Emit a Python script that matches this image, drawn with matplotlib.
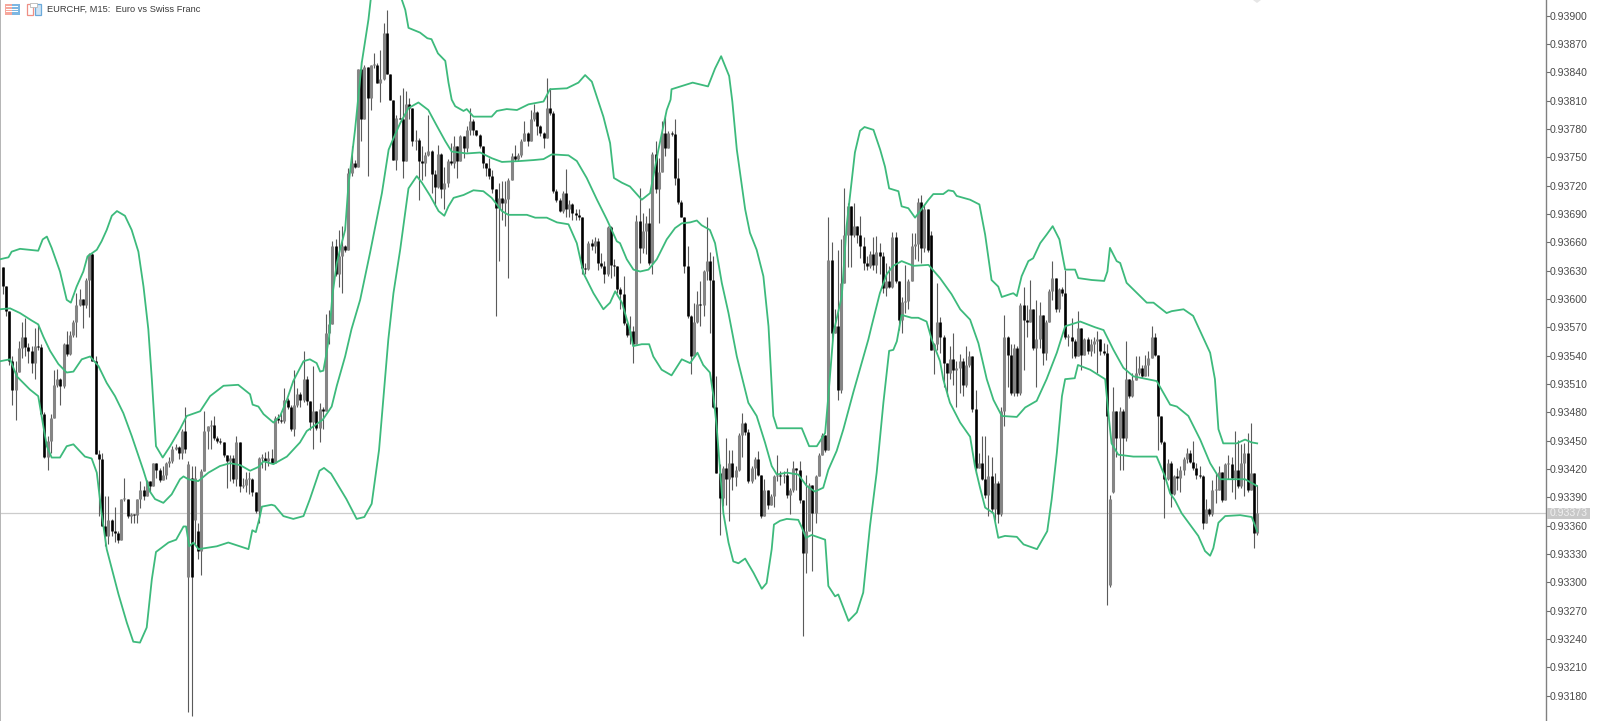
import matplotlib
matplotlib.use("Agg")
import matplotlib.pyplot as plt
from matplotlib.patches import Rectangle, Polygon

# prices are stored as points above 0.93000
closes = [614,587,534,504,523,548,560,549,545,532,
550,549,478,433,449,474,509,515,508,552,
542,562,576,593,600,594,620,648,534,436,
430,359,349,366,354,352,345,388,388,370,
372,371,388,398,391,407,402,426,419,408,
414,426,428,441,443,437,460,441,425,305,
410,333,418,460,465,466,453,449,448,435,
428,432,409,448,402,403,409,409,396,375,
432,432,428,432,426,474,472,471,493,486,
462,488,499,493,515,492,470,481,463,483,
481,564,573,656,626,645,656,652,733,744,
740,843,790,846,813,848,848,829,833,882,
838,811,747,792,791,746,806,802,767,768,
746,744,752,757,732,719,753,716,723,746,
744,762,746,772,760,779,788,779,774,762,
744,739,730,716,696,707,702,706,726,751,
748,752,767,776,767,791,798,783,776,770,
802,797,714,705,693,712,695,700,691,689,
687,633,632,659,656,661,638,635,626,676,
636,635,610,605,574,562,566,552,682,654,
672,680,638,753,716,734,776,760,776,775,
728,703,687,635,582,539,576,595,593,629,
640,620,486,416,389,421,409,426,411,419,
456,469,459,407,421,430,414,370,398,382,
391,412,414,412,414,392,398,421,419,387,
331,354,403,373,412,435,456,440,641,564,
571,504,617,668,698,668,677,668,656,638,
635,647,636,650,645,612,619,613,666,619,
578,597,598,619,656,658,703,654,695,652,
546,552,576,560,532,522,536,525,527,534,
509,530,539,483,421,426,409,392,412,377,
405,372,481,560,541,500,548,500,593,578,
576,589,548,557,583,543,576,608,622,589,
610,606,560,560,555,539,569,541,557,545,
552,555,557,545,543,476,388,481,453,481,
453,515,497,514,522,527,518,530,537,560,
541,476,448,409,426,393,412,410,419,430,
437,427,421,414,412,363,378,372,398,398,
417,387,425,425,410,419,402,426,437,398,
416,352,373]

highs = [634,614,587,540,534,555,576,580,553,550,
569,573,552,480,455,478,525,526,516,553,
566,566,578,606,610,600,622,649,649,539,
440,437,391,391,367,380,354,388,410,388,
373,372,388,407,402,408,407,426,426,421,
423,427,433,444,446,444,462,486,428,423,
423,363,420,481,465,472,476,455,453,448,
435,435,435,455,448,410,417,417,410,396,
433,436,438,439,441,476,478,479,506,495,
488,525,506,501,545,518,492,529,481,490,
485,584,588,661,663,673,677,657,739,762,
747,843,852,848,846,848,860,850,864,892,
906,838,811,795,816,823,820,813,795,779,
770,762,756,795,758,737,763,755,740,748,
765,772,762,774,772,783,802,790,779,775,
762,744,749,737,716,723,725,725,728,755,
763,755,769,788,777,800,806,799,784,777,
834,823,799,716,707,714,738,705,702,695,
695,687,638,661,663,666,665,649,640,677,
677,642,635,613,624,576,582,571,689,717,
691,688,696,756,767,749,788,795,778,778,
790,749,705,687,656,583,596,608,619,631,
687,650,645,518,425,423,453,440,440,423,
458,479,470,462,423,433,439,414,409,398,
393,414,435,418,418,421,400,428,421,428,
387,414,405,403,414,437,458,456,687,660,
589,652,663,717,702,698,702,673,688,666,
645,651,666,667,659,650,638,635,671,671,
619,602,636,621,670,670,707,710,700,691,
672,553,617,581,562,528,550,564,534,542,
537,550,545,539,504,437,455,455,435,433,
416,407,485,583,561,552,552,550,596,613,
594,620,573,599,597,583,578,610,640,622,
612,613,631,563,580,557,587,569,559,560,
557,560,566,557,553,552,392,507,481,486,
483,555,515,522,539,539,530,541,545,571,
564,541,476,449,430,428,414,421,423,433,
442,440,449,426,423,414,388,379,408,416,
423,417,426,435,433,460,451,446,447,458,
469,416,403]

lows = [605,582,530,488,472,525,537,540,532,522,
515,546,476,432,419,437,474,507,488,506,
540,541,560,560,592,569,590,581,534,436,
370,359,338,340,349,343,342,345,386,368,
363,363,363,379,387,391,395,402,410,406,
408,409,422,426,440,430,430,437,163,158,
340,325,308,418,441,441,451,447,446,433,
400,407,405,402,395,400,395,393,391,373,
363,421,419,423,426,430,469,469,469,483,
460,455,486,486,491,488,461,441,461,448,
462,481,552,573,624,613,606,650,652,730,
739,740,767,790,730,800,845,829,808,832,
838,811,747,737,790,728,746,790,762,758,
705,726,730,751,712,698,717,707,695,719,
742,739,728,746,749,756,774,774,772,760,
739,730,727,712,582,640,684,677,622,727,
746,746,750,767,762,767,788,774,772,760,
772,795,712,703,692,691,687,687,684,684,
684,626,626,631,652,649,631,633,617,624,
622,624,606,589,572,560,552,532,566,638,
649,647,636,626,712,680,734,751,760,772,
721,701,687,627,580,520,539,574,571,582,
620,564,484,416,350,381,382,365,398,402,
418,433,456,405,405,409,412,368,370,377,
382,380,407,403,405,389,372,396,398,384,
243,310,354,312,363,412,435,438,440,555,
564,493,500,647,634,634,666,659,643,631,
631,633,631,627,626,606,603,611,611,617,
567,564,585,589,619,642,640,638,650,650,
546,520,546,543,507,497,515,509,486,500,
497,507,528,480,415,421,408,389,370,373,
366,363,370,465,507,498,497,497,498,525,
560,575,546,507,548,530,535,576,599,586,
586,603,558,550,537,537,539,525,542,542,
539,543,522,541,541,276,295,394,433,419,
419,450,495,496,519,519,516,518,518,537,
539,440,446,368,408,380,392,398,396,414,
426,426,419,409,410,356,363,370,370,384,
398,385,387,409,396,388,400,400,391,395,
398,336,350]

first_open = 634
# bars that open away from the previous close
gap_opens = {58: 305, 59: 410, 60: 366, 61: 354, 62: 333, 258: 440, 290: 668, 346: 297, 347: 395}

upper_bar = [-0.8,1.8,2.8,5.4,11.1,12.5,13.8,15.3,17.9,20,21.3,23.1,25.2,26.5,29.4,30.9,32.5,34.1,35.7,38.2,40.3,42.4,44,45.5,46.6,47.9,50,52.3,55.4,57.5,61.7,64.8,69,73.6,77.3,78.1,79.9,81.5,84.6,86.7,88.8,90.8,94,96,98.1,99.2,100.2,101,102,103,104.4,105.4,107,108,110.1,112.2,114.3,115,120,124.7,125.8,126.8,130.4,132.7,134,136,138.3,139.3,140.3,141.4,144,145,147.1,152.8,154.4,157.5,160.7,164.3,169,171,176.3,179.9,182,184.1,187.7,189.8,191,193.5,196,199.7,202.3,204.9,207.5,208.7,209,215.6,220.4,222.6,224.5,227,228,229.4,232,233.5,235.6,237.7,239.3,240.8,242,249.7,252,254.4,257,258,259.6,262.2,263.7,266.3,267.9,269.3,272.1,274.2,275.7,277,279.9,280.9,283,285.1,286.7,289.3,290.8,293.9,295.5,297.1,298.1,302.3,305.2,307,309,311.1,312.2,314.8,315.8,316.9,318.4,320.5,322,324.2,326.2,328.1,330.2,332,335.1,336.1,340.3,344.2,345.2,346,348.1,349.2,351.2,355.4,357.5,359.6,363.7,365.3,369,372,375,377.3,378.8,379.9,381.4,382.5,385.6,388.2,390.3,392]
upper_band = [642,644,650,653,651,663,666,654,629,599,596,613,629,645,652,661,673,688,693,688,673,650,613,568,515,444,432,444,462,476,481,497,508,509,499,488,486,478,469,476,493,513,534,536,532,523,524,539,560,603,638,652,673,719,779,850,896,917,950,917,906,887,882,876,875,860,852,829,811,804,799,801,793,793,799,801,800,806,809,822,823,829,837,830,793,765,728,723,719,705,712,758,800,811,822,829,825,844,857,836,809,758,695,670,652,624,571,476,463,463,444,444,458,497,564,603,677,755,778,782,779,758,740,717,714,698,696,686,693,705,711,711,715,714,709,705,700,668,620,613,602,605,606,603,624,640,643,659,668,677,663,631,631,622,620,619,629,654,640,638,617,603,596,596,585,587,589,582,560,543,515,462,447,447,447,451,448,447]

middle_bar = [-0.8,2.3,5.4,9.1,11.1,12.7,14.8,17.4,20,22.1,24.7,27.3,29.9,32.5,35.1,37.7,40.3,44,46,47.6,50.2,52.8,55.4,56.5,58,61.1,64.3,67.9,71,74.2,77.3,79.9,81.5,84.6,88.8,92.9,95,100,102.8,104.4,107,109,111.7,114.8,118.5,120.6,122.1,124.2,126.8,129.9,133,135.7,138.3,140.3,145,149.2,152.8,156,161.7,165.9,169,171.6,176.8,179.4,182.5,185.7,188.8,191.9,192.9,195,197.1,199.2,201.8,204.4,207.5,210.1,212.2,214.8,216.9,218.4,221,222.6,224.7,226.8,229.4,233,235.6,238.2,240.3,241.9,245,248.6,251.2,253.8,256.4,258,260.6,262.7,265.8,268.9,270.5,271.5,274.1,276.2,278.3,280.9,284.6,289.3,292.9,296.5,299.2,302.3,304.9,307.5,309.6,312.2,316.9,319.5,323.1,326.2,329.4,332,336.7,341.3,344,347.1,350.2,353.3,360.6,364.8,366.9,370.5,374.2,377.3,380.4,385.6,388.2,391.9]
middle_band = [589,590,585,577,573,560,545,531,522,523,536,539,529,511,497,479,455,418,396,388,384,393,409,412,409,407,416,423,426,424,418,422,428,425,433,448,460,472,486,508,539,568,599,649,712,758,770,786,802,808,800,783,767,756,754,755,749,745,746,747,748,753,752,746,728,705,684,661,659,642,631,629,631,642,663,675,680,681,683,678,673,659,617,585,539,490,476,448,423,414,416,414,402,396,400,419,439,462,501,538,557,571,606,626,635,640,635,636,622,605,589,578,553,515,493,476,475,485,492,515,543,571,576,570,567,546,527,518,513,488,486,476,451,426,409,409,409,402]

lower_bar = [-0.8,2.3,4.4,8.5,11.1,12.7,13.8,15.3,17.9,20,22.1,25.7,27.8,29.4,30.9,32.5,36.2,38.8,40.8,42.9,45,46.6,47.9,51.8,54.2,56.5,57.3,58.3,59.6,61.2,66.9,70.5,76.8,78,79.1,80.4,81,84,85,87.7,90.8,94,96,99,100.4,102.6,107.4,110.6,113,115.3,117.6,120.5,122.1,124.2,126.8,129.4,131,133.6,136.2,138,139.3,140.9,144,147.1,150.2,152.8,156,158,163.8,166.4,170,173.2,176.8,179.4,181.5,184.6,187.7,189.8,191.4,193.5,196,197,199.7,202,203.3,205.9,209,212.2,214.8,217.1,218.9,221,222.1,223.1,225.2,226.8,228.3,229.9,232,234.6,237.2,238.7,240.3,241,242.9,245,248.6,249.7,251,252.8,257,258,260.1,261.1,264.3,266.9,268.9,271,273.1,275.2,277,278.3,279.4,280.9,284,286.1,288.7,290.3,292.9,293.9,296,299.2,302.3,303.8,305.4,307,309.6,311.1,313.2,316.9,319,323.2,326.4,327.8,329.4,331,332,335,336,339.8,344.5,345.5,346.5,348.6,353.3,360.6,363.2,364.8,366.3,368.4,373.6,375.7,377.3,378.3,379.9,382,386.7,390.3,392]
lower_band = [534,536,518,504,497,465,444,432,432,444,446,433,431,416,373,335,287,257,237,236,252,303,332,342,345,359,359,338,342,335,338,342,335,355,353,370,380,382,381,370,367,370,388,418,421,415,388,367,369,383,440,557,606,652,717,730,723,709,693,688,698,707,710,715,714,707,693,689,689,686,686,681,679,659,627,606,589,596,608,596,567,550,552,552,539,525,519,536,532,543,530,522,497,465,373,342,322,320,325,310,293,299,335,361,365,367,366,358,347,350,345,296,285,287,259,268,289,359,416,490,545,546,555,583,580,580,576,557,534,515,490,469,454,423,400,379,373,347,349,348,340,335,354,388,437,497,515,516,530,525,515,479,447,435,433,433,412,394,387,373,349,333,328,336,363,370,371,369,354]

price_ticks = [180,210,240,270,300,330,360,390,420,450,480,510,540,570,600,630,660,690,720,750,780,810,840,870,900]
last_price = 373
title = "EURCHF, M15:  Euro vs Swiss Franc"

W, H = 1597, 721
def P(v):
    return 0.93 + v / 1e5

fig = plt.figure(figsize=(W / 100, H / 100), dpi=100, facecolor="white")
ax = fig.add_axes([0, 0, 1545.5 / W, 1])
ax.set_xlim(-0.844, 482.1)
ax.set_ylim(P(153.0), P(916.5))
ax.set_xticks([])
for s in ("top", "bottom"):
    ax.spines[s].set_visible(False)
ax.spines["right"].set_color("#808080")
ax.spines["right"].set_linewidth(1.0)
ax.spines["left"].set_color("#b4b4b4")
ax.spines["left"].set_linewidth(1.4)

opens = [first_open] + closes[:-1]
for k, v in gap_opens.items():
    opens[k] = v

up_x, up_lo, up_hi, dn_x, dn_lo, dn_hi = [], [], [], [], [], []
w_x, w_lo, w_hi = [], [], []
for i, (o, h, l, c) in enumerate(zip(opens, highs, lows, closes)):
    w_x.append(i)
    w_lo.append(P(min(l, o, c)))
    w_hi.append(P(max(h, o, c)))
    if c >= o:
        up_x.append(i); up_lo.append(P(o)); up_hi.append(P(max(c, o + 1)))
    else:
        dn_x.append(i); dn_lo.append(P(c)); dn_hi.append(P(o))

ax.axhline(P(last_price), color="#cccccc", lw=0.9, zorder=1)
ax.vlines(w_x, w_lo, w_hi, color="#5a5a5a", lw=0.8, zorder=2)
ax.vlines(up_x, up_lo, up_hi, color="#858585", lw=2.2, zorder=3, capstyle="butt")
ax.vlines(dn_x, dn_lo, dn_hi, color="#000000", lw=1.9, zorder=3, capstyle="butt")

green = "#3dba7c"
ax.plot(upper_bar, [P(v) for v in upper_band], color=green, lw=1.3, zorder=4, solid_joinstyle="round")
ax.plot(middle_bar, [P(v) for v in middle_band], color=green, lw=1.3, zorder=4, solid_joinstyle="round")
ax.plot(lower_bar, [P(v) for v in lower_band], color=green, lw=1.3, zorder=4, solid_joinstyle="round")

ax.yaxis.tick_right()
ax.set_yticks([P(v) for v in price_ticks])
ax.set_yticklabels([f"{P(v):.5f}" for v in price_ticks], fontsize=7.6, color="#4a4a4a", family="Liberation Sans")
ax.tick_params(axis="y", length=3.0, width=0.8, color="#707070", pad=0.2)

def px_rect(x, y, w, h, fc, ec="none", lw=0):
    fig.add_artist(Rectangle((x / W, 1 - (y + h) / H), w / W, h / H, transform=fig.transFigure,
                             fc=fc, ec=ec, lw=lw))

# price tag
px_rect(1547, 507.5, 43, 11.5, "#c8c8c8")
fig.text(1568.5 / W, 1 - 513.5 / H, f"{P(last_price):.5f}", color="#f0f0f0", fontsize=7.6,
         ha="center", va="center", family="Liberation Sans")

# header icons
px_rect(4.5, 3.5, 7.5, 11, "#f6a79c"); px_rect(12, 3.5, 7.5, 11, "#7db7e2")
for y in (6.5, 9, 11.5):
    px_rect(6, y, 12, 0.9, "#ffffff")
px_rect(26.5, 3.5, 6.5, 11, "#ffffff", "#ee8f84", 0.9)
px_rect(34.5, 3.5, 6.5, 11, "#cfe4f5", "#6aa9da", 0.9)
px_rect(30, 3, 7, 3.5, "#ffffff", "#b8b8b8", 0.6)

fig.text(47 / W, 1 - 9.5 / H, title, fontsize=6.7, color="#3a3a3a", ha="left", va="center",
         family="Liberation Sans")

# faint marker at the top edge
fig.add_artist(Polygon([(1253 / W, 1), (1261 / W, 1), (1257 / W, 1 - 3 / H)], closed=True,
                       transform=fig.transFigure, fc="#e6e6e6", ec="none"))

fig.savefig("out.png", dpi=100, facecolor="white")
